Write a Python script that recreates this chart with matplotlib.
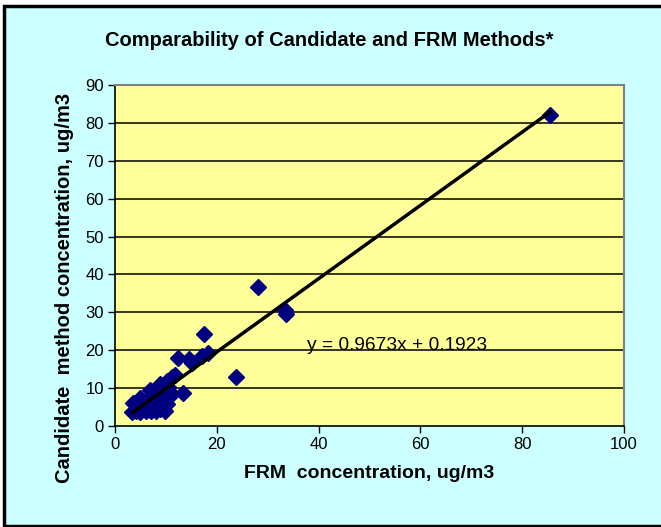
import matplotlib
matplotlib.use("Agg")
import matplotlib.pyplot as plt
from matplotlib.patches import Rectangle
import numpy as np

plt.rcParams["font.family"] = ["Liberation Sans", "DejaVu Sans"]

# FRM vs candidate concentrations (ug/m3)
frm = [85.5, 28.0, 33.4, 33.6, 23.8, 17.5, 12.4, 14.6, 15.1, 17.0, 18.3, 13.4, 11.8,
       3.4, 3.6, 4.2, 4.9, 5.0, 5.5, 6.0, 6.2, 6.9, 7.0, 7.3, 7.6, 8.0, 8.2, 8.5,
       8.9, 8.9, 9.2, 9.6, 10.2, 10.2, 10.5, 11.2, 11.2, 9.8, 5.3, 4.5, 6.6, 7.8]
cand = [82.0, 36.6, 30.6, 29.6, 13.0, 24.3, 17.9, 17.6, 16.5, 18.5, 19.2, 8.8, 13.5,
        3.6, 6.0, 4.0, 7.3, 3.8, 5.5, 4.0, 6.8, 9.5, 4.0, 7.8, 5.2, 4.0, 8.6, 6.3,
        11.2, 4.5, 9.8, 7.1, 12.0, 5.8, 10.3, 12.9, 8.4, 4.0, 6.4, 5.0, 5.8, 7.0]
slope = 0.9673
intercept = 0.1923
x_ticks = [0, 20, 40, 60, 80, 100]
y_ticks = [0, 10, 20, 30, 40, 50, 60, 70, 80, 90]

fig = plt.figure(figsize=(6.61, 5.27), dpi=100)
fig.patch.set_facecolor("white")
# chart area background with black frame
fig.patches.append(Rectangle((4 / 661, 1 / 527), 1.0, 520 / 527, transform=fig.transFigure,
                             facecolor="#CCFFFF", edgecolor="black", linewidth=2.5, zorder=-1))

ax = fig.add_axes([115 / 661, 101 / 527, 509 / 661, 341 / 527])
ax.set_facecolor("#FFFF99")

for yv in y_ticks[1:-1]:
    ax.axhline(yv, color="black", linewidth=1.1, zorder=1)

ax.plot(frm, cand, linestyle="none", marker="D", markersize=8,
        color="#000080", zorder=3)

xs = np.array([min(frm), max(frm)])
ax.plot(xs, slope * xs + intercept, color="black", linewidth=2.5, zorder=4)

ax.text(37.7, 21.2, f"y = {slope}x + {intercept}", fontsize=13.8, va="center",
        ha="left", zorder=5)

ax.set_xlim(0, 100)
ax.set_ylim(0, 90)
ax.set_xticks(x_ticks)
ax.set_yticks(y_ticks)
ax.tick_params(labelsize=12, length=5, width=1, direction="out", pad=3)
for s in ["top", "right"]:
    ax.spines[s].set_color("#808080")
    ax.spines[s].set_linewidth(1.5)
for s in ["left", "bottom"]:
    ax.spines[s].set_color("black")
    ax.spines[s].set_linewidth(1.2)

ax.set_xlabel("FRM  concentration, ug/m3", fontsize=14, fontweight="bold", labelpad=9)
ax.set_ylabel("Candidate  method concentration, ug/m3", fontsize=14.5, fontweight="bold",
              va="center")
ax.yaxis.set_label_coords(-0.1, 0.405)

fig.text(329 / 661, 1 - 40 / 527, "Comparability of Candidate and FRM Methods*",
         fontsize=14.5, fontweight="bold", ha="center", va="center")

fig.savefig("out.png", dpi=100)
